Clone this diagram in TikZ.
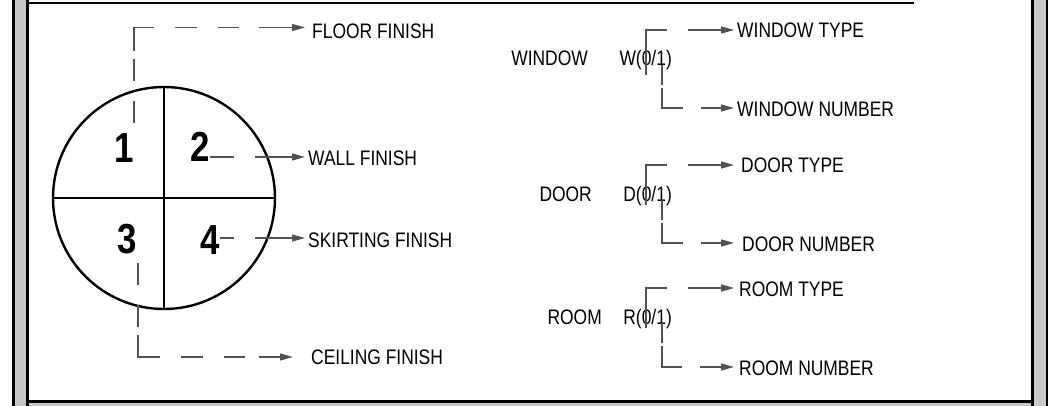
\documentclass[tikz,border=0pt]{standalone}
\usepackage{fontspec}
\setmainfont{Liberation Sans}[FakeStretch=0.83]
\usetikzlibrary{arrows.meta}

\tikzstyle{bar}=[fill=black!22]
\tikzstyle{rule}=[fill=black]
\tikzstyle{leader}=[draw=black!68, line width=1.3pt, -{Triangle[length=13pt,width=7pt]}]
\tikzstyle{txt}=[inner sep=0pt, anchor=base west, font=\fontsize{21}{25}\selectfont]
\tikzstyle{code}=[inner sep=0pt, anchor=base east, font=\fontsize{21}{25}\selectfont]
\tikzstyle{num}=[inner sep=0pt, anchor=base, font=\fontsize{42}{48}\selectfont\bfseries]
\tikzstyle{key}=[circle, draw, line width=2.4pt, minimum size=222pt, inner sep=0pt]
\tikzset{
  fcdash/.style={dash pattern=on 22pt off 20pt on 22pt off 8pt on 44pt off 21pt on 22pt off 21pt on 21pt off #1 on 300pt},
  updash/.style={dash pattern=on #1 off 21pt on 300pt},
  lodash/.style={dash pattern=on 20pt off 3pt on 41pt off 18pt on 300pt},
  sidedash/.style={dash pattern=on #1 off 21pt on 300pt}
}

\begin{document}
\begin{tikzpicture}[x=1pt,y=-1pt]
        \useasboundingbox (0,0) rectangle (1051,406);
        % frame
        \path[bar]  (12,0) rectangle (29,406);
        \path[rule] (12,0) rectangle (14.5,406);
        \path[rule] (26,0) rectangle (29,406);
        \path[bar]  (1031,0) rectangle (1048,406);
        \path[rule] (1031,0) rectangle (1034,406);
        \path[rule] (1045.5,0) rectangle (1048,406);
        \path[bar]  (29,402.5) rectangle (1031,406);
        \path[rule] (29,400) rectangle (1031,402.7);
        \path[rule] (29,2) rectangle (914,4.3);
        %
        \draw (164,198) node[key](key){};
        \draw[line width=2.2pt] (key.north) -- (key.south);
        \draw[line width=2.2pt] (key.west) -- (key.east);
        \draw (124,163) node[num](n1){1};
        \draw (200,162) node[num](n2){2};
        \draw (127,253) node[num](n3){3};
        \draw (210,254) node[num](n4){4};
        %
        \coordinate (ftip) at (305,27.5);
        \coordinate (wltip) at (305,157);
        \coordinate (sktip) at (305,238);
        \coordinate (ctip) at (293,357);
        \draw (312,39) node[txt](floor){FLOOR FINISH};
        \draw (308,166) node[txt](wall){WALL FINISH};
        \draw (308,247) node[txt](skirt){SKIRTING FINISH};
        \draw (311,364) node[txt](ceil){CEILING FINISH};
        \draw[leader,fcdash=20pt] ([yshift=11pt]n1.north east) |- (ftip);
        \draw[leader,fcdash=14pt] ([yshift=-9pt,xshift=1pt]n3.south east) |- (ctip);
        \draw[leader,sidedash=24pt] (n2.east |- wltip) -- (wltip);
        \draw[leader,sidedash=14pt] (n4.east |- sktip) -- (sktip);
        %
        \draw (588,66) node[code](window){WINDOW};
        \draw (592,201) node[code](door){DOOR};
        \draw (602,324) node[code](room){ROOM};
        \draw (672,66) node[code](wcode){W(0/1)};
        \draw (672,201) node[code](dcode){D(0/1)};
        \draw (672,324) node[code](rcode){R(0/1)};
        %
        \coordinate (wup) at (646,75);   \coordinate (wtyp) at (734,30);
        \coordinate (wlo) at (662,65);   \coordinate (wnum) at (734,108);
        \coordinate (dup) at (646,205);  \coordinate (dtyp) at (734,165);
        \coordinate (dlo) at (662,200);  \coordinate (dnum) at (734,243);
        \coordinate (rup) at (646,328);  \coordinate (rtyp) at (734,288);
        \coordinate (rlo) at (662,323);  \coordinate (rnum) at (734,367);
        \draw (737,38) node[txt](wtype){WINDOW TYPE};
        \draw (737,117) node[txt](wnumber){WINDOW NUMBER};
        \draw (741,173) node[txt](dtype){DOOR TYPE};
        \draw (742,251) node[txt](dnumber){DOOR NUMBER};
        \draw (739,296) node[txt](rtype){ROOM TYPE};
        \draw (739,375) node[txt](rnumber){ROOM NUMBER};
        \draw[leader,updash=66pt] (wup) |- (wtyp);
        \draw[leader,lodash]      (wlo) |- (wnum);
        \draw[leader,updash=61pt] (dup) |- (dtyp);
        \draw[leader,lodash]      (dlo) |- (dnum);
        \draw[leader,updash=61pt] (rup) |- (rtyp);
        \draw[leader,lodash]      (rlo) |- (rnum);
\end{tikzpicture}
\end{document}
